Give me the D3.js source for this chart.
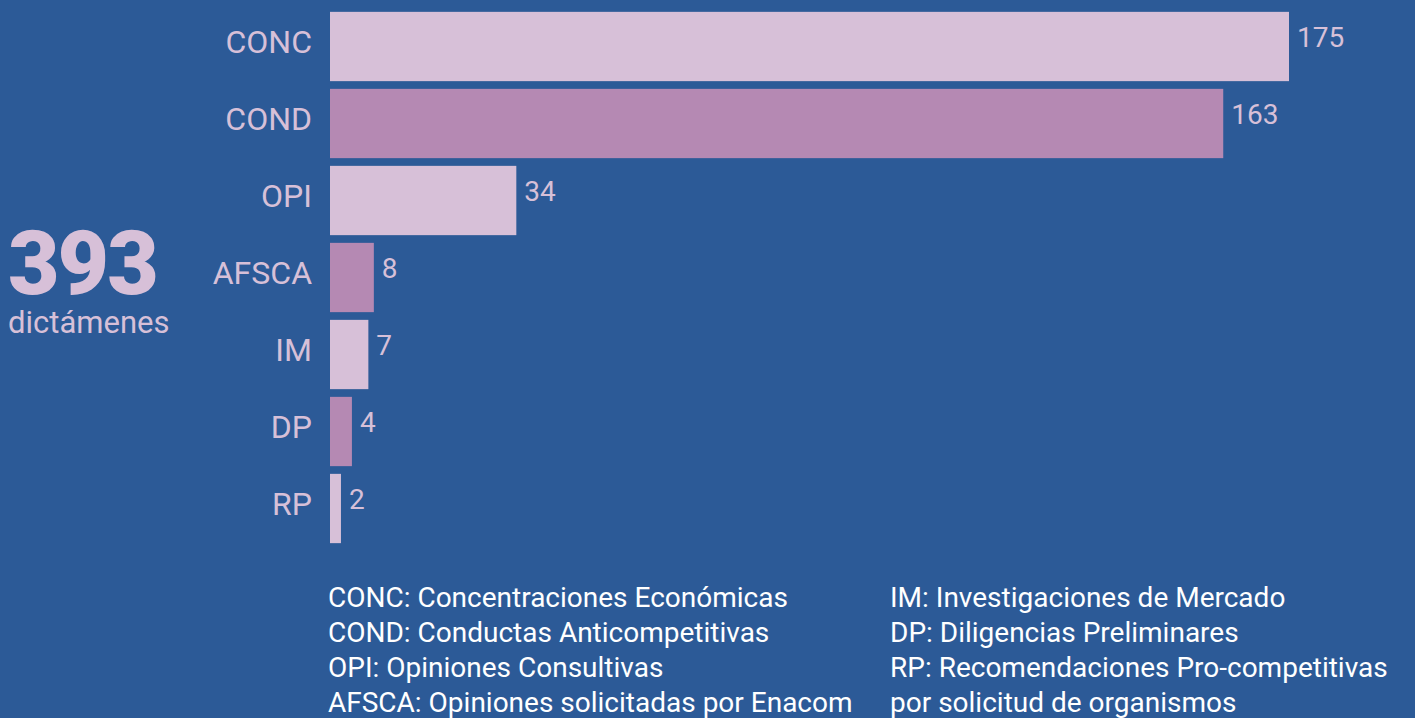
<!DOCTYPE html>
<html>
<head>
<meta charset="utf-8">
<script src="https://cdn.jsdelivr.net/npm/d3@7"></script>
<style>
  body { margin: 0; background: #2c5a97; }
  svg { display: block; }
  text { font-family: Roboto, "Liberation Sans", sans-serif; }
</style>
</head>
<body>
<svg id="figure"></svg>
<script>
const categories = ["CONC", "COND", "OPI", "AFSCA", "IM", "DP", "RP"];
const values = [175, 163, 34, 8, 7, 4, 2];
const totalLabel = "393";
const totalCaption = "dictámenes";
const legendLeft = [
    "CONC: Concentraciones Económicas",
    "COND: Conductas Anticompetitivas",
    "OPI: Opiniones Consultivas",
    "AFSCA: Opiniones solicitadas por Enacom"
];
const legendRight = [
    "IM: Investigaciones de Mercado",
    "DP: Diligencias Preliminares",
    "RP: Recomendaciones Pro-competitivas",
    "por solicitud de organismos"
];

const width = 1415, height = 718;
const colors = ["#d7c0d8", "#b589b3"];
const labelColor = "#d7c0d8";

const svg = d3.select("#figure")
    .attr("width", width)
    .attr("height", height);

svg.append("rect")
    .attr("width", width)
    .attr("height", height)
    .attr("fill", "#2c5a97");

const data = categories.map((c, i) => ({name: c, value: values[i]}));

const x = d3.scaleLinear()
    .domain([0, 175])
    .range([330, 1289]);

const y = d3.scaleBand()
    .domain(categories)
    .range([8, 547])
    .paddingInner(0.1)
    .paddingOuter(0.05);

// bars, alternating colours
svg.selectAll("rect.bar")
    .data(data)
    .enter().append("rect")
    .attr("class", "bar")
    .attr("x", x(0))
    .attr("y", d => y(d.name))
    .attr("width", d => x(d.value) - x(0))
    .attr("height", y.bandwidth())
    .attr("fill", (d, i) => colors[i % 2]);

// value labels
svg.selectAll("text.value")
    .data(data)
    .enter().append("text")
    .attr("class", "value")
    .attr("x", d => x(d.value) + 8)
    .attr("y", d => y(d.name) + y.bandwidth() / 2 - 9)
    .attr("dy", "0.35em")
    .attr("fill", labelColor)
    .attr("font-size", 28)
    .text(d => d.value);

// category axis
const yAxis = svg.append("g")
    .attr("transform", "translate(" + x(0) + ",-5)")
    .call(d3.axisLeft(y).tickSize(0).tickPadding(18));
yAxis.select(".domain").remove();
yAxis.selectAll("text")
    .attr("fill", labelColor)
    .attr("font-size", 32)
    .attr("dy", "0.35em")
    .attr("font-family", "Roboto, sans-serif");

// total
svg.append("text")
    .attr("x", 8)
    .attr("y", 294)
    .attr("fill", labelColor)
    .attr("font-size", 89)
    .attr("font-weight", 900)
    .attr("letter-spacing", -2)
    .text(totalLabel);

svg.append("text")
    .attr("x", 8)
    .attr("y", 333)
    .attr("fill", labelColor)
    .attr("font-size", 31)
    .text(totalCaption);

// legend
const legend = svg.append("g").attr("fill", "#ffffff").attr("font-size", 28);
legend.selectAll("text.l")
    .data(legendLeft)
    .enter().append("text")
    .attr("x", 328)
    .attr("y", (d, i) => 607 + i * 35)
    .text(d => d);
legend.selectAll("text.r")
    .data(legendRight)
    .enter().append("text")
    .attr("x", 890)
    .attr("y", (d, i) => 607 + i * 35)
    .text(d => d);
</script>
</body>
</html>
